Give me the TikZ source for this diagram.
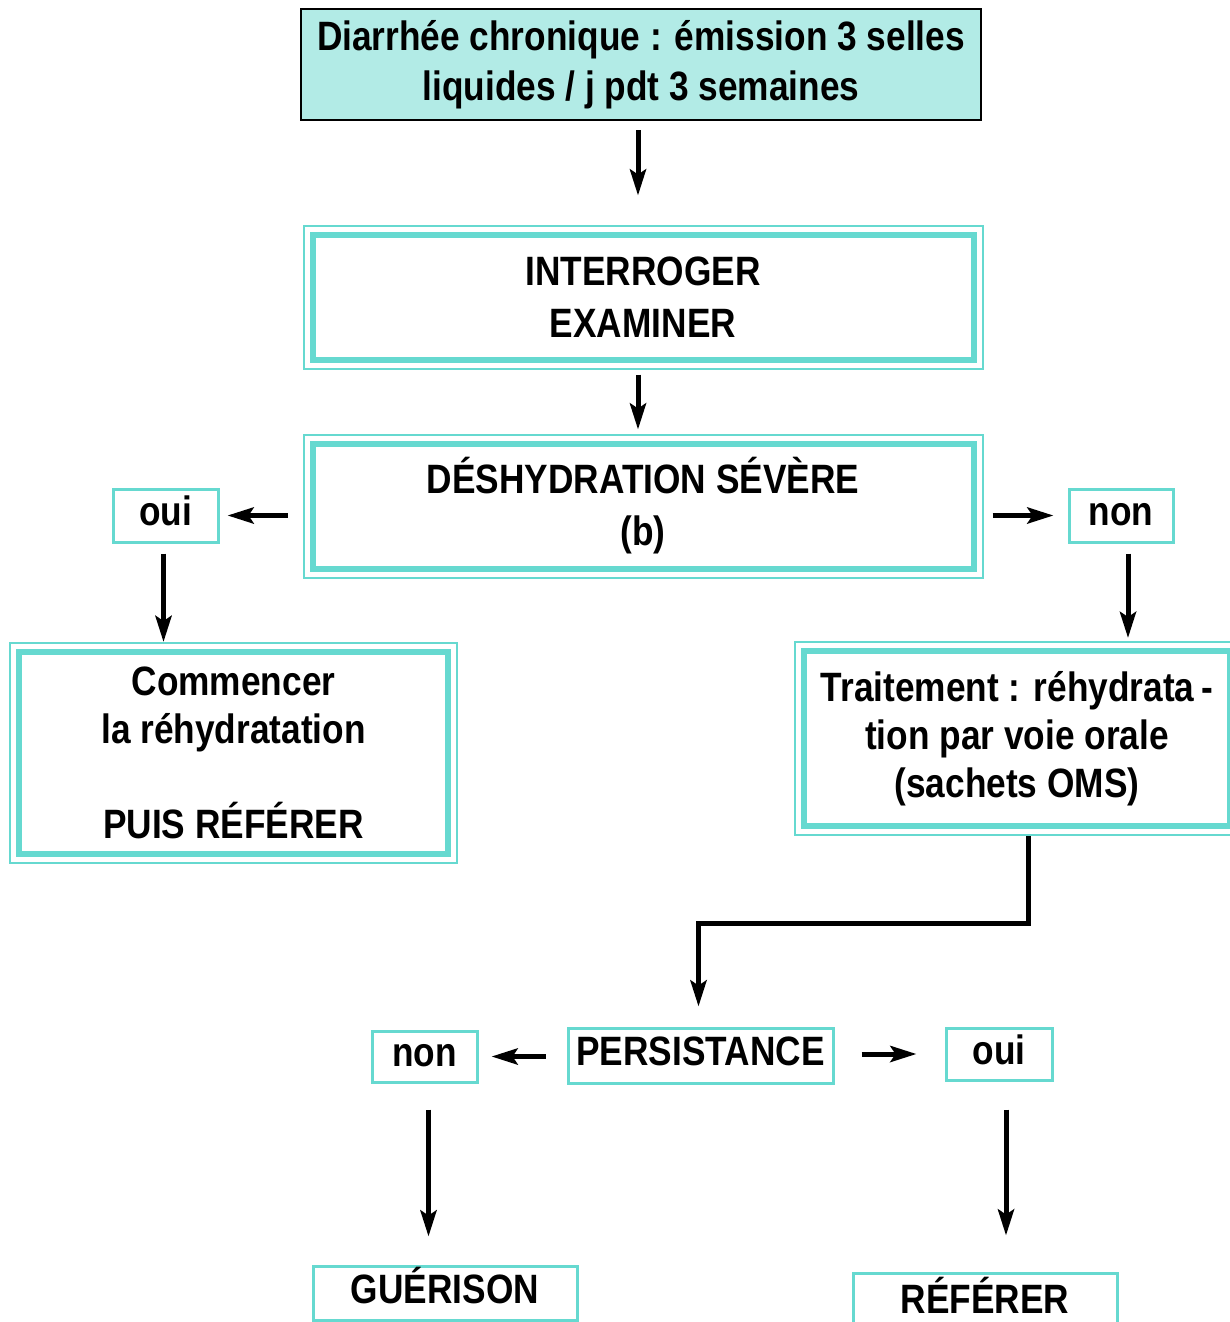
\documentclass[tikz,border=0pt]{standalone}
\usepackage{fontspec}
\setmainfont{Liberation Sans}[FakeStretch=0.86]
\usetikzlibrary{arrows.meta,positioning,fit,calc}
\definecolor{turq}{RGB}{102,217,208}
\definecolor{turqlight}{RGB}{178,235,230}
\tikzset{
    startbox/.style={draw=black, line width=2.5pt, fill=turqlight,
                     minimum width=680pt, minimum height=111pt,
                     inner sep=0pt, outer sep=0pt, align=center,
                     font=\fontsize{41}{50}\selectfont\bfseries},
    dbox/.style={draw=turq, line width=6pt, inner sep=0pt, outer sep=0pt,
                 align=center, font=\fontsize{41}{#1}\selectfont\bfseries},
    dbox/.default=48,
    obox/.style={draw=turq, line width=2pt, inner sep=9pt},
    tag/.style={draw=turq, line width=3pt, inner sep=0pt, align=center,
                text height=30pt, text depth=10pt,
                font=\fontsize{41}{48}\selectfont\bfseries},
}

\begin{document}
\begin{tikzpicture}[
    x=1pt, y=-1pt,
    conn/.style={line width=5pt, -{Stealth[length=26pt, width=16pt, inset=5pt]}}
]
    \useasboundingbox (0,0) rectangle (1230,1322);
    \clip (0,0) rectangle (1230,1322);

    \node[startbox] (diarr) at (641,64.5)
        {Diarrhée chronique : émission 3 selles\\liquides / j pdt 3 semaines};

    \node[dbox=52, minimum width=661pt, minimum height=125pt] (interr) at (643,297)
        {INTERROGER\\EXAMINER};
    \node[obox, fit=(interr)] (interrO) {};
    \node[dbox=52, minimum width=661pt, minimum height=125pt] (deshyd) at (643,506)
        {DÉSHYDRATION SÉVÈRE\\(b)};
    \node[obox, fit=(deshyd)] (deshydO) {};

    \node[tag, minimum width=105pt, minimum height=53pt] (ouiA) at (165.5,515.5) {oui};
    \node[tag, minimum width=104pt, minimum height=53pt] (nonA) at (1121,515.5) {non};

    \node[dbox, minimum width=429pt, minimum height=202pt] (commenc) at (233.5,753)
        {Commencer\\la réhydratation\\[47pt]PUIS RÉFÉRER};
    \node[obox, fit=(commenc)] (commencO) {};
    \node[dbox, minimum width=426pt, minimum height=175pt] (traitem) at (1017,738.5)
        {Traitement : réhydrata\,-\\tion par voie orale\\(sachets OMS)};
    \node[obox, fit=(traitem)] (traitemO) {};

    \node[tag, minimum width=265pt, minimum height=55pt] (persist) at (700.5,1055.5) {PERSISTANCE};
    \node[tag, minimum width=105pt, minimum height=51pt] (nonB) at (424.5,1056.5) {non};
    \node[tag, minimum width=106pt, minimum height=52pt] (ouiB) at (999,1054) {oui};
    \node[tag, minimum width=264pt, minimum height=54pt] (guerison) at (445,1293) {GUÉRISON};
    \node[tag, minimum width=264pt, minimum height=60pt] (referer) at (985,1303) {RÉFÉRER};

    \draw[conn, shorten <=10pt, shorten >=29pt] ([xshift=-3pt]diarr.south) -- ([xshift=-5pt]interrO.north);
    \draw[conn, shorten <=5pt, shorten >=4pt] ([xshift=-5pt]interrO.south) -- ([xshift=-5pt]deshydO.north);
    \draw[conn, shorten <=15pt, shorten >=8pt] (deshydO.west |- ouiA.east) -- (ouiA.east);
    \draw[conn, shorten <=9pt, shorten >=14pt] (deshydO.east |- nonA.west) -- (nonA.west);
    \draw[conn, shorten <=10pt] ([xshift=-2pt]ouiA.south) -- ([xshift=-2pt]ouiA.south |- commencO.north);
    \draw[conn, shorten <=10pt, shorten >=3pt] ([xshift=7pt]nonA.south) -- ([xshift=7pt]nonA.south |- traitemO.north);
    \draw[conn, shorten >=20pt] ([xshift=11pt]traitemO.south) -- ++(0,87) -| ([xshift=-2pt]persist.north);
    \draw[conn, shorten <=21pt, shorten >=13pt] (persist.west |- nonB.east) -- (nonB.east);
    \draw[conn, shorten <=27pt, shorten >=28pt] (persist.east |- ouiB.west) -- (ouiB.west);
    \draw[conn, shorten <=26pt, shorten >=28pt] ([xshift=4pt]nonB.south) -- ([xshift=4pt]nonB.south |- guerison.north);
    \draw[conn, shorten <=28pt, shorten >=36pt] ([xshift=7pt]ouiB.south) -- ([xshift=7pt]ouiB.south |- referer.north);
\end{tikzpicture}
\end{document}
